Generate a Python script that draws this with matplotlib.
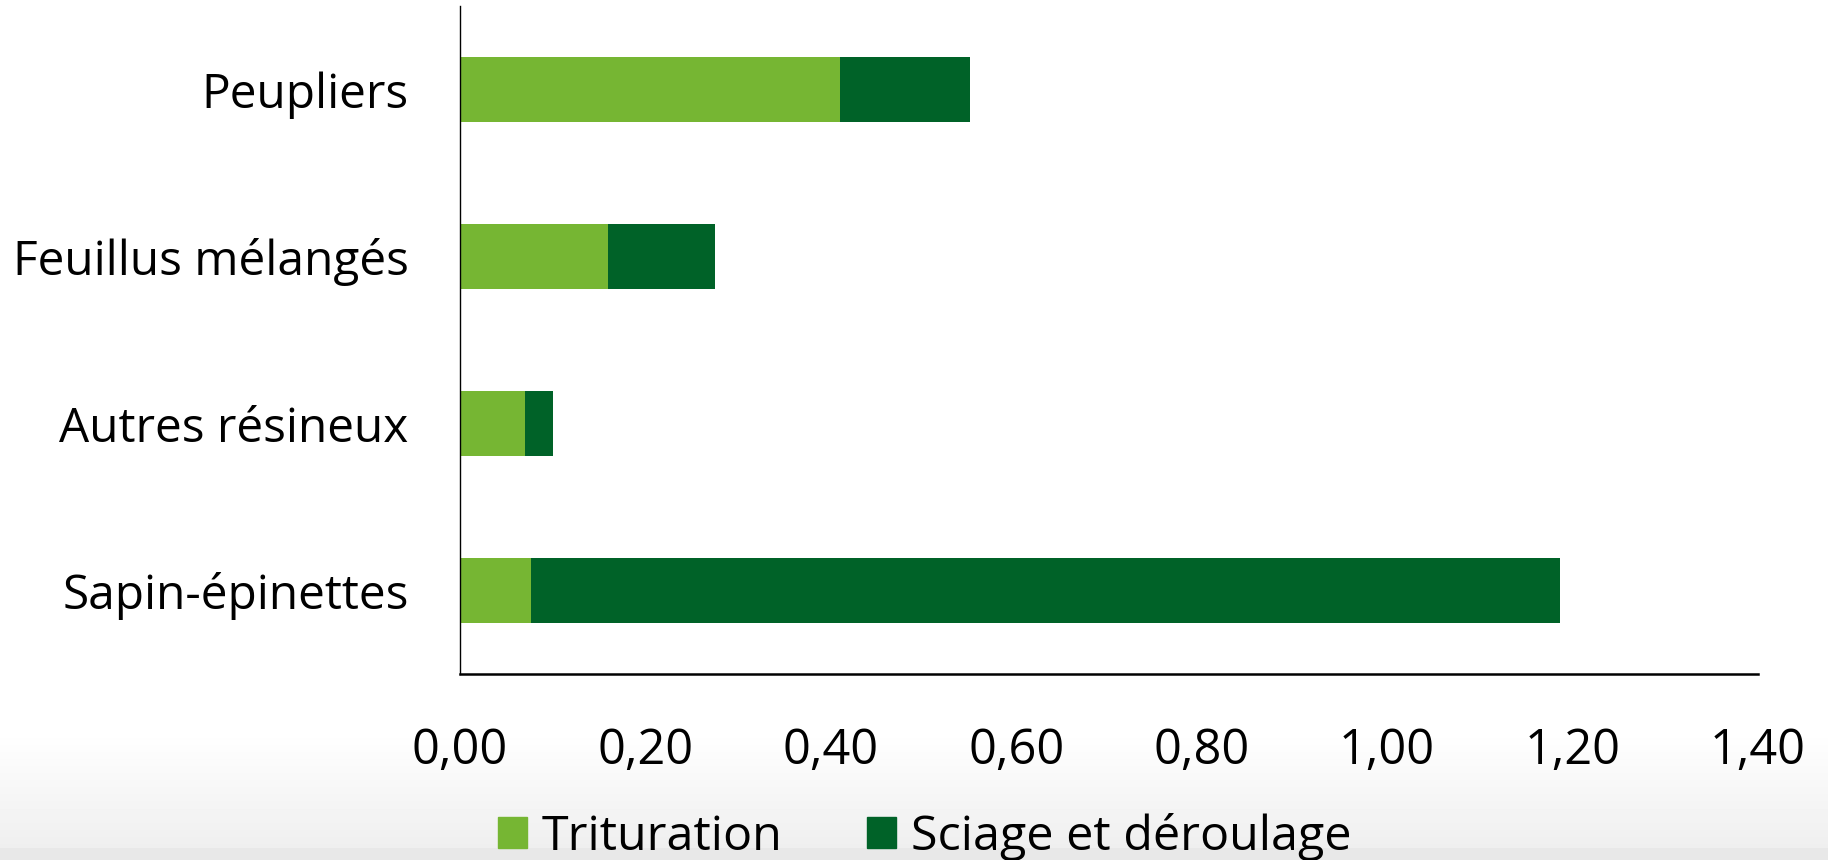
import matplotlib
matplotlib.use('Agg')
import matplotlib.pyplot as plt
import numpy as np
from matplotlib.patches import Patch
from matplotlib.ticker import FuncFormatter

# essences, listed from top to bottom
categories = ['Peupliers', 'Feuillus mélangés', 'Autres résineux', 'Sapin-épinettes']
trituration = [0.41, 0.16, 0.07, 0.077]
sciage = [0.14, 0.115, 0.03, 1.11]
series_names = ['Trituration', 'Sciage et déroulage']
x_ticks = [0.0, 0.2, 0.4, 0.6, 0.8, 1.0, 1.2, 1.4]

LIGHT = '#76b633'
DARK = '#006228'

plt.rcParams['font.family'] = ['Open Sans', 'DejaVu Sans']

fig = plt.figure(figsize=(18.28, 8.6), dpi=100)

# soft grey fade at the bottom of the image
bg = fig.add_axes([0, 0, 1, 1], zorder=-1)
h = 860
rows = np.arange(h)
shade = np.ones(h)
fade = rows > 730
shade[fade] = 1.0 - 0.065 * (rows[fade] - 730) / (848 - 730)
shade[rows >= 848] = 0.91
bg.imshow(np.repeat(shade[:, None], 10, axis=1), cmap='gray', vmin=0, vmax=1,
          aspect='auto', extent=[0, 1, 0, 1])
bg.set_axis_off()

ax = fig.add_axes([0.2516, 0.2163, 0.7101, 0.7767])
ax.set_facecolor('none')

y = np.arange(len(categories))
ax.barh(y, trituration, height=0.39, color=LIGHT, label=series_names[0])
ax.barh(y, sciage, left=trituration, height=0.39, color=DARK, label=series_names[1])

ax.set_ylim(len(categories) - 0.5, -0.5)
ax.set_xlim(0, 1.4)
ax.set_yticks(y)
ax.set_yticklabels(categories)
ax.set_xticks(x_ticks)
ax.xaxis.set_major_formatter(FuncFormatter(lambda v, p: f'{v:.2f}'.replace('.', ',')))

ax.tick_params(axis='x', length=0, pad=38, labelsize=35)
ax.tick_params(axis='y', length=0, pad=37, labelsize=34.4)

for s in ['top', 'right']:
    ax.spines[s].set_visible(False)
ax.spines['left'].set_linewidth(1.0)
ax.spines['bottom'].set_linewidth(1.8)

handles = [Patch(color=LIGHT), Patch(color=DARK)]
fig.legend(handles, series_names, loc='center', bbox_to_anchor=(0.506, 0.027),
           ncol=2, frameon=False, fontsize=34.8, handlelength=0.6, handleheight=0.6,
           handletextpad=0.3, columnspacing=1.75, borderpad=0)

fig.savefig('out.png', dpi=100)
